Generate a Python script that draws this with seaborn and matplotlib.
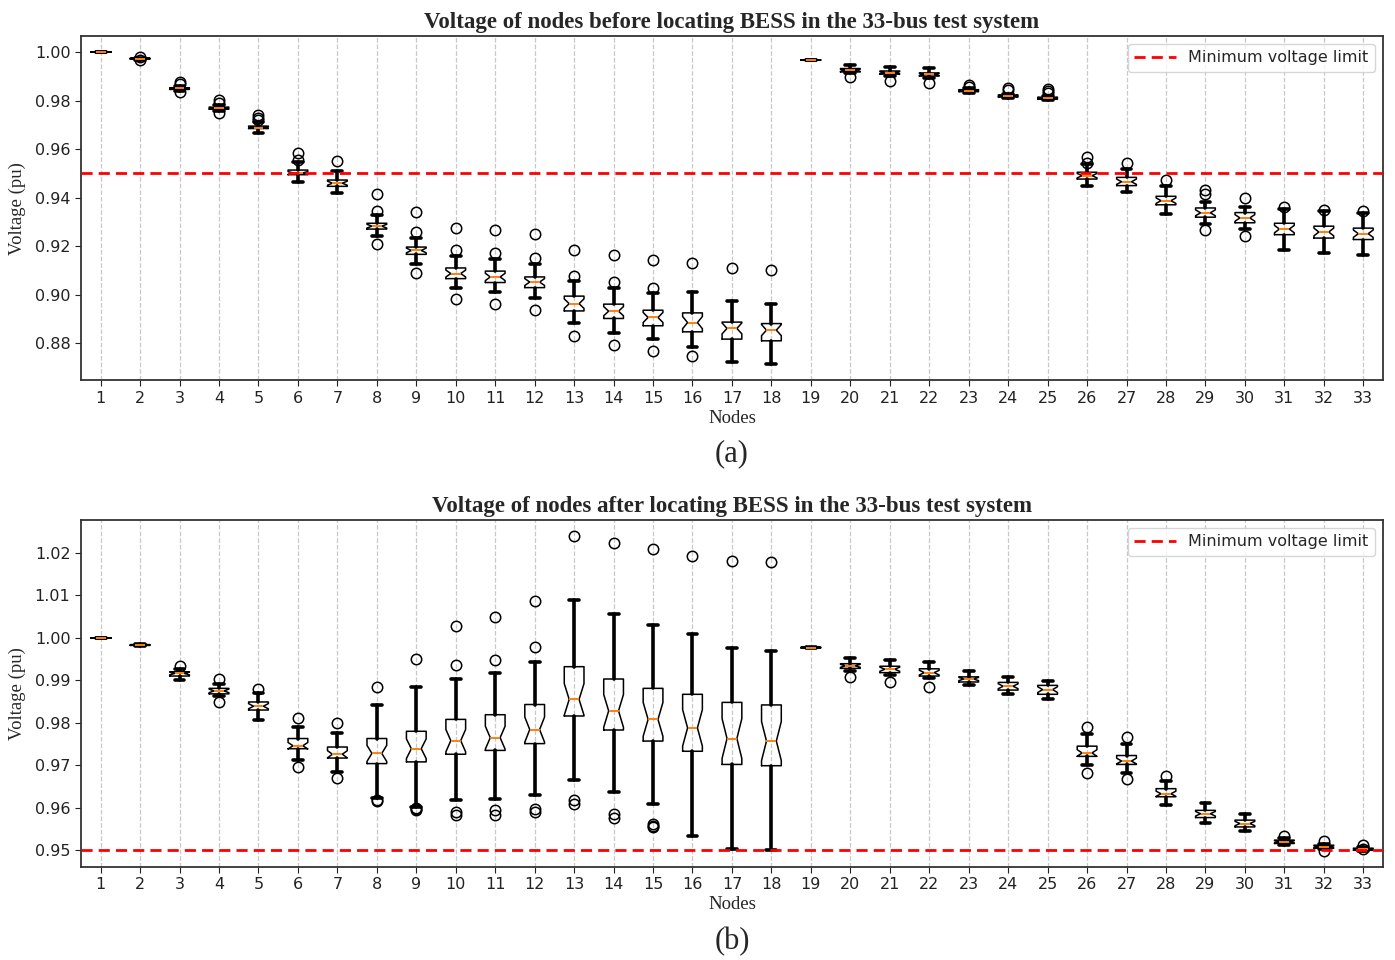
import numpy as np
import seaborn as sns
import matplotlib.pyplot as plt

# Nós do sistema de 33 barras
nodes = list(range(1, 34))

# %% Estatísticas (a) - antes do BESS
a_med = [1.0000, 0.9973, 0.9850, 0.9769, 0.9689, 0.9502, 0.9460, 0.9283, 0.9183, 0.9088,
         0.9074, 0.9053, 0.8964, 0.8933, 0.8907, 0.8886, 0.8862, 0.8855, 0.9967, 0.9925,
         0.9915, 0.9908, 0.9840, 0.9819, 0.9810, 0.9491, 0.9466, 0.9388, 0.9338, 0.9317,
         0.9271, 0.9259, 0.9252]
a_q1 = [1.0000, 0.9971, 0.9846, 0.9765, 0.9685, 0.9495, 0.9447, 0.9271, 0.9167, 0.9067,
        0.9051, 0.9030, 0.8934, 0.8903, 0.8873, 0.8848, 0.8818, 0.8811, 0.9966, 0.9918,
        0.9909, 0.9901, 0.9837, 0.9815, 0.9806, 0.9477, 0.9450, 0.9371, 0.9320, 0.9297,
        0.9248, 0.9234, 0.9228]
a_q3 = [1.0000, 0.9975, 0.9853, 0.9773, 0.9695, 0.9514, 0.9473, 0.9295, 0.9197, 0.9111,
        0.9098, 0.9074, 0.8995, 0.8962, 0.8937, 0.8926, 0.8888, 0.8882, 0.9968, 0.9932,
        0.9922, 0.9914, 0.9845, 0.9823, 0.9814, 0.9505, 0.9484, 0.9406, 0.9358, 0.9339,
        0.9295, 0.9283, 0.9275]
a_lo = [1.0000, 0.9968, 0.9840, 0.9757, 0.9666, 0.9464, 0.9419, 0.9243, 0.9129, 0.9030,
        0.9011, 0.8988, 0.8885, 0.8845, 0.8817, 0.8787, 0.8722, 0.8714, 0.9966, 0.9912,
        0.9903, 0.9895, 0.9833, 0.9811, 0.9802, 0.9447, 0.9423, 0.9334, 0.9293, 0.9270,
        0.9186, 0.9174, 0.9163]
a_hi = [1.0000, 0.9977, 0.9860, 0.9782, 0.9712, 0.9546, 0.9509, 0.9327, 0.9235, 0.9159,
        0.9149, 0.9129, 0.9056, 0.9030, 0.9008, 0.9011, 0.8975, 0.8964, 0.9968, 0.9945,
        0.9940, 0.9936, 0.9850, 0.9828, 0.9820, 0.9539, 0.9518, 0.9450, 0.9382, 0.9364,
        0.9354, 0.9347, 0.9338]
a_fliers = [[], [0.9980, 0.9966], [0.9877, 0.9867, 0.9837], [0.9804, 0.9792, 0.9748],
            [0.9740, 0.9730, 0.9721], [0.9583, 0.9555], [0.9550],
            [0.9414, 0.9345, 0.9208], [0.9342, 0.9259, 0.9092], [0.9276, 0.9183, 0.8982],
            [0.9268, 0.9172, 0.8964], [0.9252, 0.9152, 0.8937], [0.9186, 0.9079, 0.8830],
            [0.9163, 0.9053, 0.8793], [0.9145, 0.9030, 0.8769], [0.9130, 0.8748],
            [0.9111], [0.9104], [], [0.9897], [0.9881], [0.9874],
            [0.9863, 0.9856], [0.9853, 0.9843], [0.9849, 0.9840, 0.9830],
            [0.9569, 0.9543], [0.9543], [0.9473], [0.9430, 0.9416, 0.9268],
            [0.9398, 0.9241], [0.9361], [0.9350], [0.9344]]

# %% Estatísticas (b) - depois do BESS
b_med = [1.0000, 0.9983, 0.9916, 0.9875, 0.9839, 0.9746, 0.9726, 0.9728, 0.9739, 0.9758,
         0.9765, 0.9784, 0.9855, 0.9828, 0.9808, 0.9788, 0.9763, 0.9757, 0.9977, 0.9934,
         0.9926, 0.9918, 0.9903, 0.9886, 0.9878, 0.9729, 0.9710, 0.9633, 0.9586, 0.9563,
         0.9520, 0.9508, 0.9502]
b_q1 = [1.0000, 0.9982, 0.9910, 0.9868, 0.9830, 0.9739, 0.9717, 0.9704, 0.9708, 0.9726,
        0.9735, 0.9751, 0.9816, 0.9783, 0.9757, 0.9733, 0.9702, 0.9699, 0.9976, 0.9928,
        0.9918, 0.9910, 0.9896, 0.9877, 0.9867, 0.9721, 0.9702, 0.9626, 0.9577, 0.9555,
        0.9516, 0.9505, 0.9500]
b_q3 = [1.0000, 0.9984, 0.9920, 0.9881, 0.9849, 0.9763, 0.9743, 0.9763, 0.9780, 0.9808,
        0.9819, 0.9843, 0.9932, 0.9903, 0.9881, 0.9867, 0.9848, 0.9842, 0.9978, 0.9939,
        0.9933, 0.9927, 0.9908, 0.9895, 0.9888, 0.9745, 0.9723, 0.9645, 0.9594, 0.9571,
        0.9524, 0.9512, 0.9505]
b_lo = [1.0000, 0.9981, 0.9900, 0.9863, 0.9806, 0.9713, 0.9684, 0.9622, 0.9602, 0.9618,
        0.9620, 0.9630, 0.9665, 0.9636, 0.9608, 0.9533, 0.9504, 0.9500, 0.9976, 0.9922,
        0.9912, 0.9905, 0.9890, 0.9867, 0.9856, 0.9700, 0.9683, 0.9606, 0.9564, 0.9545,
        0.9512, 0.9502, 0.9498]
b_hi = [1.0000, 0.9985, 0.9926, 0.9891, 0.9869, 0.9790, 0.9777, 0.9841, 0.9885, 0.9903,
        0.9918, 0.9943, 1.0090, 1.0057, 1.0029, 1.0008, 0.9975, 0.9969, 0.9978, 0.9953,
        0.9947, 0.9942, 0.9921, 0.9907, 0.9898, 0.9773, 0.9749, 0.9662, 0.9612, 0.9585,
        0.9528, 0.9516, 0.9508]
b_fliers = [[], [], [0.9933], [0.9903, 0.9850], [0.9879], [0.9812, 0.9696],
            [0.9800, 0.9669], [0.9885, 0.9618, 0.9616], [0.9950, 0.9600, 0.9597, 0.9594],
            [1.0028, 0.9936, 0.9590, 0.9582], [1.0048, 0.9947, 0.9594, 0.9584],
            [1.0086, 0.9979, 0.9598, 0.9590], [1.0240, 0.9619, 0.9608],
            [1.0222, 0.9586, 0.9577], [1.0208, 0.9563, 0.9558, 0.9555], [1.0192],
            [1.0180], [1.0179], [], [0.9908], [0.9896], [0.9885], [], [], [],
            [0.9790, 0.9683], [0.9767, 0.9668], [0.9675], [], [], [0.9533],
            [0.9522, 0.9498], [0.9513, 0.9502]]

n_amostras = 24  # uma amostra por hora
limite_tensao = 0.95


def montar_stats(med, q1, q3, lo, hi, fliers):
    """Monta a lista de dicionários usada pelo Axes.bxp (com entalhes)."""
    stats = []
    for i in range(len(med)):
        meia = 1.57 * (q3[i] - q1[i]) / np.sqrt(n_amostras)
        stats.append({
            "med": med[i], "q1": q1[i], "q3": q3[i],
            "whislo": lo[i], "whishi": hi[i], "fliers": fliers[i],
            "cilo": med[i] - meia, "cihi": med[i] + meia,
        })
    return stats


sns.set_style("ticks")
plt.rcParams["font.family"] = ["DejaVu Sans"]
serif = ["Liberation Serif", "DejaVu Serif"]

fig = plt.figure(figsize=(13.95, 9.6), dpi=100)
ax_a = fig.add_axes([0.058, 0.604, 0.9334, 0.3585])
ax_b = fig.add_axes([0.058, 0.097, 0.9334, 0.3613])

paineis = [
    (ax_a, montar_stats(a_med, a_q1, a_q3, a_lo, a_hi, a_fliers),
     "Voltage of nodes before locating BESS in the 33-bus test system", "(a)",
     [0.88, 0.90, 0.92, 0.94, 0.96, 0.98, 1.00], (0.8649, 1.0066)),
    (ax_b, montar_stats(b_med, b_q1, b_q3, b_lo, b_hi, b_fliers),
     "Voltage of nodes after locating BESS in the 33-bus test system", "(b)",
     [0.95, 0.96, 0.97, 0.98, 0.99, 1.00, 1.01, 1.02], (0.9461, 1.0277)),
]

for eixo, stats, titulo, letra, yticks, ylim in paineis:
    eixo.bxp(stats, positions=nodes, widths=0.5, shownotches=True,
             boxprops=dict(color="black", linewidth=1.1),
             whiskerprops=dict(color="black", linewidth=2.6),
             capprops=dict(color="black", linewidth=2.6),
             medianprops=dict(color="#ff7f0e", linewidth=1.4),
             flierprops=dict(marker="o", markerfacecolor="none",
                             markeredgecolor="black", markersize=7.5, markeredgewidth=1.1))
    eixo.axhline(limite_tensao, color="red", linestyle="--", linewidth=2,
                 dashes=(4, 2.2), label="Minimum voltage limit", zorder=3)
    eixo.grid(axis="x", linestyle="--", color="#c8c8c8", linewidth=0.9)
    eixo.set_axisbelow(True)
    eixo.set_xlim(0.5, 33.5)
    eixo.set_ylim(*ylim)
    eixo.set_yticks(yticks)
    eixo.set_yticklabels([f"{v:.2f}" for v in yticks])
    eixo.set_xticks(nodes)
    eixo.set_xticklabels([str(n) for n in nodes])
    eixo.tick_params(labelsize=11.5, colors="#222222", length=4)
    for lado in eixo.spines.values():
        lado.set_color("#333333")
        lado.set_linewidth(1.3)
    eixo.set_title(titulo, fontsize=16.5, fontweight="bold", family=serif, pad=6)
    eixo.set_ylabel("Voltage (pu)", fontsize=13.5, family=serif, labelpad=6)
    eixo.set_xlabel("Nodes", fontsize=13.5, family=serif, labelpad=3)
    eixo.text(0.5, -0.215, letra, transform=eixo.transAxes, ha="center", va="center",
              fontsize=22, family=serif)
    eixo.legend(loc="upper right", fontsize=11.5, frameon=True, fancybox=True,
                framealpha=0.8, edgecolor="#cccccc", handlelength=2.6)

fig.savefig("out.png", dpi=100)
